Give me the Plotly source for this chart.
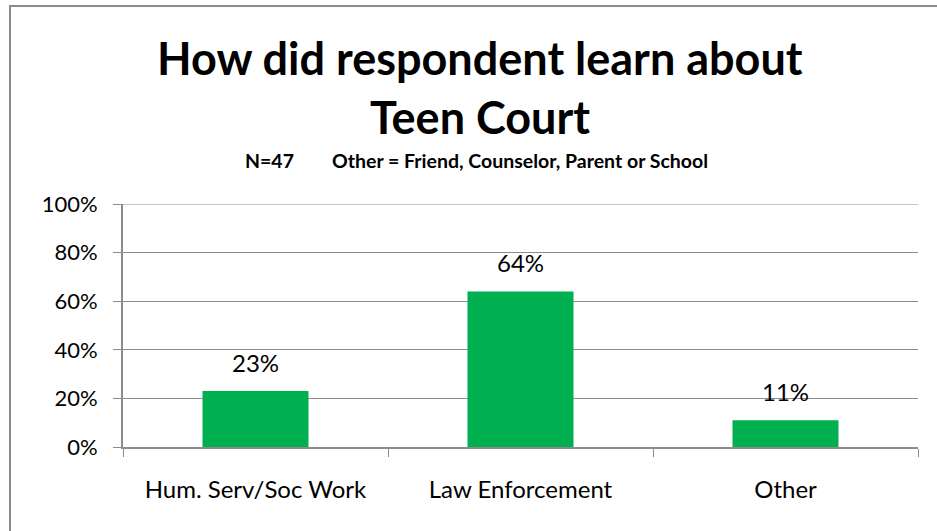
import plotly.graph_objects as go

categories = ["Hum. Serv/Soc Work", "Law Enforcement", "Other"]
values = [23, 64, 11]
value_labels = ["23%", "64%", "11%"]
y_ticks = [0, 20, 40, 60, 80, 100]
y_tick_labels = ["0%", "20%", "40%", "60%", "80%", "100%"]

FONT = "Lato"
GREEN = "#00B050"
GRID = "#8c8c8c"

W, H = 937, 531
L, R, T, B = 123, 19, 204, 84
pw = W - L - R
ph = H - T - B

def px_x(p):
    return (p - L) / pw

def px_y(p):
    return (H - B - p) / ph

fig = go.Figure()
fig.add_trace(go.Bar(
    x=categories, y=values, marker=dict(color=GREEN, line=dict(width=0)),
    hoverinfo="skip",
))

for c, v, t in zip(categories, values, value_labels):
    fig.add_annotation(x=c, y=v, text=t, showarrow=False, yanchor="bottom",
                       yshift=12, font=dict(family=FONT, size=24, color="black"))

fig.update_layout(
    width=W, height=H,
    margin=dict(l=L, r=R, t=T, b=B, pad=0),
    paper_bgcolor="white", plot_bgcolor="white",
    showlegend=False, bargap=0.6,
    xaxis=dict(showline=True, linecolor=GRID, linewidth=2, ticks="outside",
               ticklen=8, tickcolor=GRID, tickson="boundaries",
               ticklabelstandoff=20,
               tickfont=dict(family=FONT, size=24, color="black"), showgrid=False),
    yaxis=dict(range=[0, 100], tickvals=y_ticks, ticktext=y_tick_labels,
               showline=True, linecolor=GRID, linewidth=2, ticks="outside",
               ticklen=8, tickcolor=GRID, showgrid=True, gridcolor=GRID,
               gridwidth=1, zeroline=False, ticklabelstandoff=11,
               tickfont=dict(family=FONT, size=22, color="black")),
)

# top gridline at 100%
fig.add_shape(type="line", xref="paper", yref="y", x0=0, x1=1,
              y0=y_ticks[-1], y1=y_ticks[-1], line=dict(color=GRID, width=1))

fig.add_annotation(xref="paper", yref="paper", x=px_x(480), y=px_y(58),
                   text="<b>How did respondent learn about</b>", showarrow=False,
                   xanchor="center", yanchor="middle",
                   font=dict(family=FONT, size=45, color="black"))
fig.add_annotation(xref="paper", yref="paper", x=px_x(480), y=px_y(117),
                   text="<b>Teen Court</b>", showarrow=False,
                   xanchor="center", yanchor="middle",
                   font=dict(family=FONT, size=45, color="black"))
fig.add_annotation(xref="paper", yref="paper", x=px_x(243), y=px_y(160),
                   text="<b>N=47</b>", showarrow=False,
                   xanchor="left", yanchor="middle",
                   font=dict(family=FONT, size=19.5, color="black"))
fig.add_annotation(xref="paper", yref="paper", x=px_x(330), y=px_y(160),
                   text="<b>Other = Friend, Counselor, Parent or School</b>", showarrow=False,
                   xanchor="left", yanchor="middle",
                   font=dict(family=FONT, size=19.5, color="black"))

fig.add_shape(type="rect", xref="paper", yref="paper",
              x0=px_x(10), x1=px_x(950), y0=px_y(545), y1=px_y(6),
              line=dict(color="#8c8c8c", width=2), fillcolor="rgba(0,0,0,0)", layer="below")

fig.write_html("out.html", config={"displayModeBar": False},
               post_script="document.body.style.margin='0';document.body.style.overflow='hidden';")
